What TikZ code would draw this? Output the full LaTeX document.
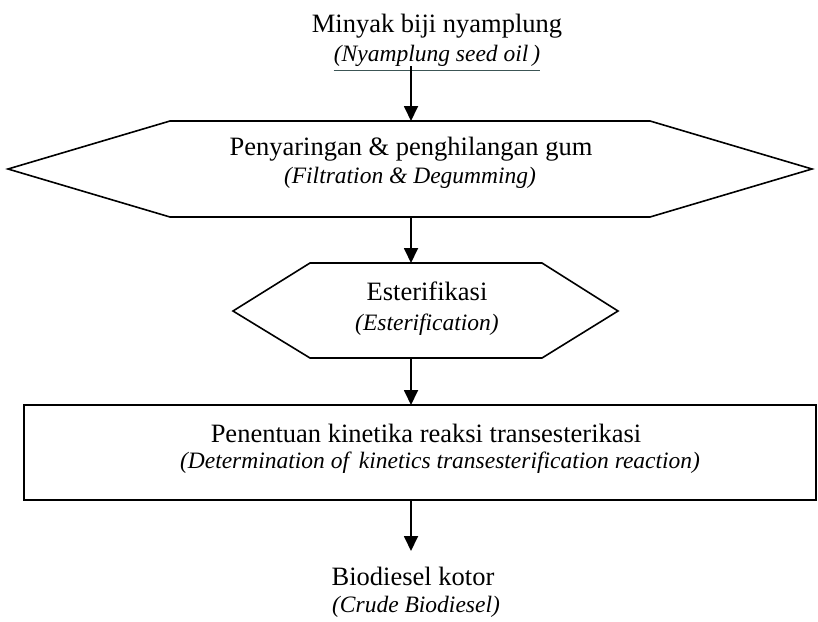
\documentclass[tikz,border=0pt]{standalone}
\usepackage{fontspec}
\setmainfont{Liberation Serif}
\usetikzlibrary{arrows.meta}
\definecolor{ulcol}{RGB}{60,85,85}
\begin{document}
\begin{tikzpicture}[x=1pt,y=-1pt,
  shapeline/.style={line width=1.6pt, line join=miter},
  flow/.style={line width=1.8pt, -{Triangle[length=15pt,width=14pt]}},
  rom/.style={font=\fontsize{26.5}{30}\selectfont, anchor=base, inner sep=0pt},
  ita/.style={font=\fontsize{23.5}{28}\selectfont\itshape, anchor=base, inner sep=0pt}]
\useasboundingbox (0,0) rectangle (818,621);
% shapes
\draw[shapeline] (8,169) -- (170,121) -- (650,121) -- (812,169) -- (650,217) -- (170,217) -- cycle;
\draw[shapeline] (233,311) -- (310,263) -- (542,263) -- (618,311) -- (542,358) -- (310,358) -- cycle;
\draw[shapeline] (24,405) rectangle (816,500);
% anchors
\coordinate (h1t) at (411,121);
\coordinate (h1b) at (411,217);
\coordinate (h2t) at (411,263);
\coordinate (h2b) at (411,358);
\coordinate (rt) at (411,405);
\coordinate (rb) at (411,500);
% texts
\node[rom] (in1) at (437,32) {Minyak biji nyamplung};
\node[ita] (in2) at (437,61) {(Nyamplung seed oil\,)};
\draw[ulcol, line width=1pt] (in2.south west) ++(0,4) coordinate (ul1) -- (in2.south east |- ul1) coordinate (ul2);
\node[rom] (f1) at (411,155) {Penyaringan \& penghilangan gum};
\node[ita] (f2) at (410,183) {(Filtration \& Degumming)};
\node[rom] (e1) at (427,300) {Esterifikasi};
\node[ita] (e2) at (427,330) {(Esterification)};
\node[rom] (k1) at (426,442) {Penentuan kinetika reaksi transesterikasi};
\node[ita] (k2) at (440,468) {(Determination of\, kinetics transesterification reaction)};
\node[rom] (o1) at (413,585) {Biodiesel kotor};
\node[ita] (o2) at (416,612) {(Crude Biodiesel)};
% arrows
\coordinate (a1s) at (411,66);
\draw[flow] (a1s) -- (h1t);
\draw[flow] (h1b) -- (h2t);
\draw[flow] (h2b) -- (rt);
\coordinate (a4e) at (411,551);
\draw[flow] (rb) -- (a4e);
\end{tikzpicture}
\end{document}
